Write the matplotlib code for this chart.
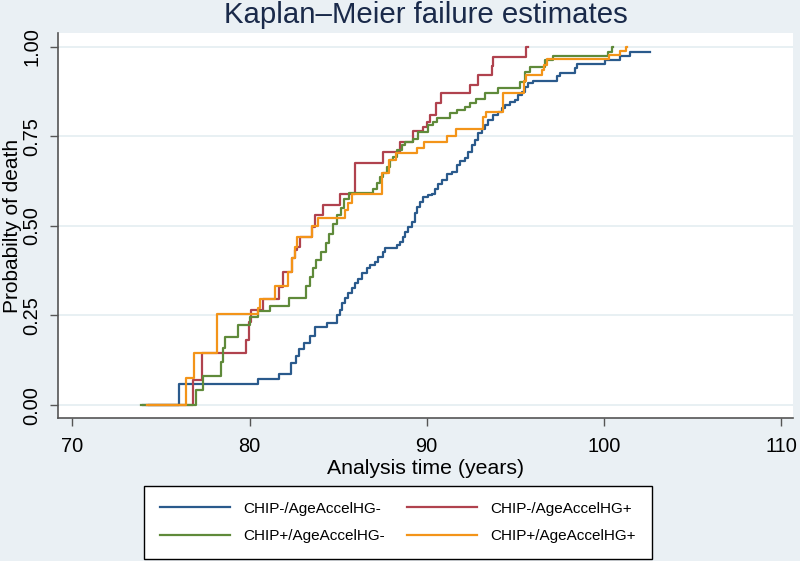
import matplotlib
matplotlib.use("Agg")
import matplotlib.pyplot as plt

plt.rcParams['font.family'] = ['Liberation Sans', 'DejaVu Sans']

# ---- data ----
labels = ["CHIP-/AgeAccelHG-", "CHIP-/AgeAccelHG+", "CHIP+/AgeAccelHG-", "CHIP+/AgeAccelHG+"]

t_nn = [74.0, 76.0, 80.45, 81.65, 82.33, 82.6, 82.8, 83.1, 83.4, 83.71,
        84.35, 84.92, 85.1, 85.2, 85.38, 85.57, 85.76, 85.95, 86.13, 86.33,
        86.61, 86.79, 87.08, 87.26, 87.55, 87.64, 88.3, 88.49, 88.67, 88.77,
        88.96, 89.15, 89.33, 89.43, 89.62, 89.8, 90.08, 90.28, 90.46, 90.65,
        90.84, 91.12, 91.4, 91.69, 91.87, 92.16, 92.34, 92.53, 92.72, 92.91,
        93.1, 93.28, 93.47, 93.75, 94.04, 94.23, 94.41, 94.7, 94.98, 95.16,
        95.35, 95.54, 95.73, 96.01, 97.33, 97.52, 98.36, 98.46, 100.06, 100.9,
        101.47, 102.6]
p_nn = [0.0, 0.059, 0.074, 0.087, 0.117, 0.137, 0.157, 0.174, 0.192, 0.218,
        0.230, 0.25, 0.265, 0.284, 0.298, 0.312, 0.326, 0.34, 0.353, 0.367,
        0.381, 0.39, 0.40, 0.414, 0.427, 0.437, 0.447, 0.456, 0.469, 0.483,
        0.497, 0.511, 0.535, 0.553, 0.567, 0.581, 0.585, 0.59, 0.604, 0.616,
        0.628, 0.644, 0.65, 0.669, 0.68, 0.69, 0.705, 0.725, 0.739, 0.758,
        0.77, 0.781, 0.795, 0.809, 0.818, 0.828, 0.837, 0.846, 0.851, 0.865,
        0.874, 0.888, 0.897, 0.905, 0.918, 0.927, 0.94, 0.95, 0.963, 0.973,
        0.986, 0.986]

t_np = [74.3, 76.82, 77.3, 79.82, 79.95, 80.1, 80.74, 81.69, 81.9, 82.4,
        82.56, 82.7, 82.84, 83.5, 83.69, 84.16, 85.1, 85.97, 87.51, 88.49,
        89.2, 89.8, 90.0, 90.2, 90.5, 90.78, 92.45, 92.9, 93.66, 93.76,
        95.6, 95.7]
p_np = [0.0, 0.070, 0.144, 0.182, 0.231, 0.265, 0.296, 0.33, 0.372, 0.41,
        0.432, 0.44, 0.468, 0.497, 0.53, 0.558, 0.59, 0.675, 0.707, 0.734,
        0.764, 0.776, 0.790, 0.81, 0.842, 0.869, 0.893, 0.920, 0.946, 0.971,
        1.0, 1.0]

t_pn = [73.9, 76.95, 77.0, 77.35, 78.4, 78.5, 78.6, 79.37, 80.05, 80.5,
        81.17, 82.2, 83.2, 83.4, 83.6, 83.75, 84.05, 84.3, 84.5, 84.7,
        84.92, 85.15, 85.35, 85.64, 86.98, 87.17, 87.36, 87.55, 87.74, 87.92,
        88.11, 88.30, 88.58, 88.77, 89.2, 89.52, 90.08, 90.37, 90.56, 91.31,
        91.69, 92.16, 92.44, 92.8, 93.28, 94.04, 95.26, 95.54, 95.82, 96.67,
        97.14, 100.24, 100.43, 100.53]
p_pn = [0.0, 0.02, 0.042, 0.08, 0.121, 0.16, 0.191, 0.223, 0.246, 0.262,
        0.277, 0.30, 0.331, 0.356, 0.381, 0.406, 0.426, 0.451, 0.476, 0.506,
        0.531, 0.551, 0.576, 0.591, 0.604, 0.618, 0.637, 0.646, 0.665, 0.683,
        0.693, 0.711, 0.725, 0.734, 0.743, 0.762, 0.781, 0.790, 0.80, 0.814,
        0.823, 0.832, 0.842, 0.855, 0.869, 0.883, 0.901, 0.93, 0.944, 0.962,
        0.974, 0.986, 1.0, 1.0]

t_pp = [74.2, 76.41, 76.88, 78.18, 80.45, 80.6, 81.46, 82.18, 82.4, 82.55,
        82.66, 83.5, 83.88, 85.38, 85.55, 85.76, 87.45, 87.85, 88.25, 89.43,
        89.87, 91.12, 91.65, 93.15, 93.35, 94.28, 95.5, 95.6, 96.5, 96.6,
        96.8, 100.3, 100.9, 101.25, 101.3]
p_pp = [0.0, 0.076, 0.145, 0.255, 0.27, 0.296, 0.331, 0.371, 0.411, 0.441,
        0.469, 0.499, 0.522, 0.544, 0.563, 0.588, 0.646, 0.683, 0.702, 0.716,
        0.734, 0.75, 0.769, 0.804, 0.818, 0.869, 0.905, 0.92, 0.934, 0.948,
        0.965, 0.975, 0.987, 1.0, 1.0]

x_ticks = [70, 80, 90, 100, 110]
y_ticks = [0.0, 0.25, 0.5, 0.75, 1.0]
y_ticklabels = ["0.00", "0.25", "0.50", "0.75", "1.00"]

colors = ["#2a5a8c", "#b0424e", "#5f8a3a", "#f39419"]
bg = "#eaf0f4"

W, H = 800, 561
fig = plt.figure(figsize=(8.0, 5.61), dpi=100, facecolor=bg)
ax = fig.add_axes([58 / W, 1 - 418 / H, (793 - 58) / W, (418 - 33) / H])
ax.set_facecolor("white")

series = [(t_nn, p_nn), (t_np, p_np), (t_pn, p_pn), (t_pp, p_pp)]
handles = []
for (t, p), c, lab in zip(series, colors, labels):
    h, = ax.step(t, p, where="post", color=c, lw=1.6, label=lab)
    handles.append(h)

ax.set_xlim(69.19, 110.67)
ax.set_ylim(-0.036, 1.0377)
ax.set_xticks(x_ticks)
ax.set_yticks(y_ticks)
ax.set_yticklabels(y_ticklabels, rotation=90, va="center")
ax.yaxis.grid(True, color="#e4edf1", lw=1.2)
ax.set_axisbelow(True)

for s in ["top", "right"]:
    ax.spines[s].set_visible(False)
for s in ["left", "bottom"]:
    ax.spines[s].set_color("#555555")
    ax.spines[s].set_linewidth(1.2)
ax.tick_params(axis="both", colors="#555555", labelcolor="black", labelsize=14.4,
               length=6, width=1.0, direction="out")
ax.tick_params(axis="x", pad=8)
ax.tick_params(axis="y", pad=6)

ax.set_xlabel("Analysis time (years)", fontsize=15.3, labelpad=2)
ax.set_ylabel("Probabilty of death", fontsize=15.0, labelpad=0)

fig.text((58 + 793) / 2 / W, 1 - 15 / H, "Kaplan\u2013Meier failure estimates",
         ha="center", va="center", fontsize=21.2, color="#1a2a4a")

# legend: row 1 = CHIP- groups, row 2 = CHIP+ groups (matplotlib fills by column)
order = [0, 2, 1, 3]
leg = fig.legend([handles[i] for i in order], [labels[i] for i in order],
                 loc="center", bbox_to_anchor=(144 / W, 1 - 557 / H, 508 / W, 69 / H),
                 mode="expand", ncol=2, fontsize=11.0, frameon=True, fancybox=False,
                 edgecolor="black", facecolor="white", framealpha=1,
                 handlelength=4.6, handletextpad=0.85, labelspacing=0.9,
                 borderpad=1.05, borderaxespad=0)
leg.get_frame().set_linewidth(1.0)

fig.savefig("out.png", dpi=100, facecolor=bg)
